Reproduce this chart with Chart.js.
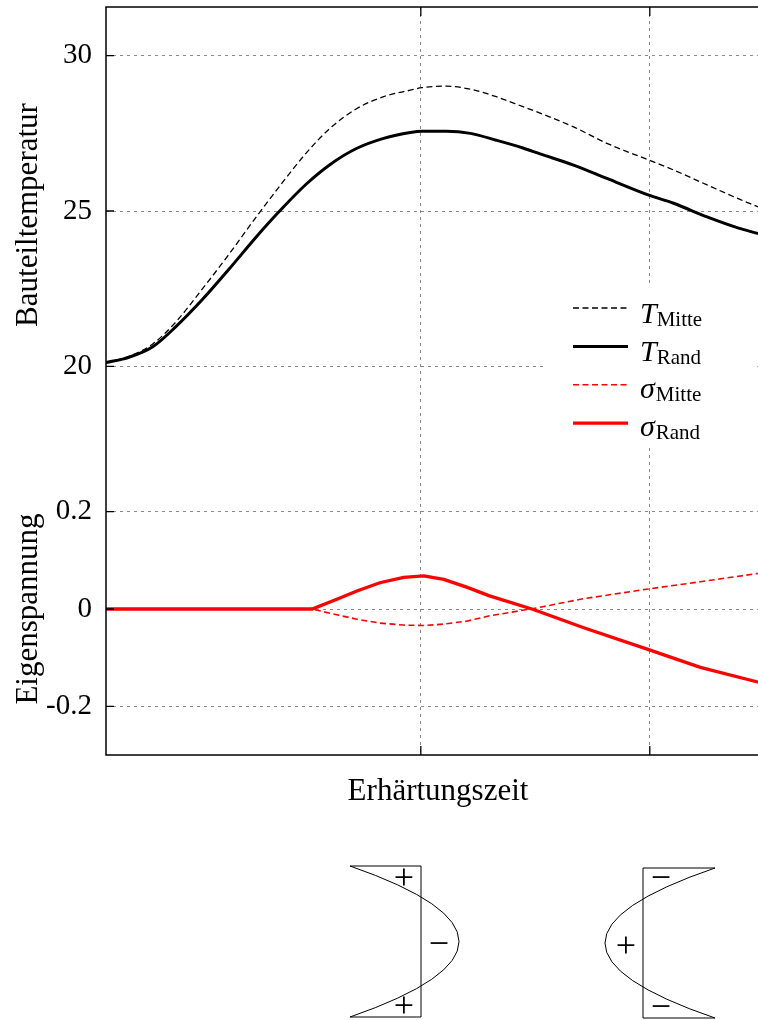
<!DOCTYPE html>
<html>
<head>
<meta charset="utf-8">
<script src="https://cdn.jsdelivr.net/npm/chart.js@4.4.0/dist/chart.umd.min.js"></script>
<style>
  html, body { margin: 0; padding: 0; background: #fff; overflow: hidden; }
  #page { position: relative; width: 758px; height: 1020px; overflow: hidden; }
  #wrap { position: absolute; left: 0; top: 0; width: 772px; height: 820px; }
  #sketch { position: absolute; left: 0; top: 0; pointer-events: none; }
</style>
</head>
<body>
<div id="page">
  <div id="wrap"><canvas id="chart"></canvas></div>
  <svg id="sketch" width="758" height="1020" viewBox="0 0 758 1020">
    <g fill="none" stroke="#000" stroke-width="1">
      <path d="M350 866 H421 V1017 H350"/>
      <path d="M350 866 Q568 941.5 350 1017"/>
      <path d="M715 868 H643 V1018 H715"/>
      <path d="M715 868 Q495 943 715 1018"/>
    </g>
    <g font-family="'Liberation Serif', serif" font-size="36" text-anchor="middle" dominant-baseline="central" fill="#000">
      <text x="404" y="877">+</text>
      <text x="439" y="943">−</text>
      <text x="404" y="1005">+</text>
      <text x="661" y="877">−</text>
      <text x="626" y="945">+</text>
      <text x="661" y="1006">−</text>
    </g>
  </svg>
</div>
<script>
const FONT = '"Liberation Serif", "Times New Roman", serif';
const GRID = '#8a8a8a';

// Erhärtungszeit (arbitrary time units, no labels on the axis)
const tempTime = [0, 2.4, 4.9, 7.3, 10.1, 12.9, 15.7, 18.2, 21.0, 23.5, 26.3, 29.1, 31.9, 33.1, 35.7, 38.2, 40.9, 43.7, 45.5, 49.0, 52.5, 56.9, 59.5, 63.0, 66.4, 68.3, 69.6];
const tempMitte = [20.12, 20.32, 20.72, 21.42, 22.49, 23.61, 24.79, 25.80, 26.87, 27.67, 28.30, 28.68, 28.89, 28.97, 29.02, 28.92, 28.68, 28.36, 28.15, 27.71, 27.18, 26.64, 26.32, 25.84, 25.38, 25.14, 25.00];
const tempRand = [20.12, 20.29, 20.63, 21.27, 22.15, 23.13, 24.15, 25.00, 25.87, 26.50, 27.02, 27.34, 27.53, 27.57, 27.57, 27.50, 27.28, 27.03, 26.84, 26.48, 26.05, 25.51, 25.25, 24.81, 24.44, 24.28, 24.16];

const stressTime = [0, 5, 10, 15, 21.6, 24.2, 26.3, 28.7, 31.2, 33.3, 35.4, 37.8, 40.2, 44.8, 50.0, 56.8, 62.3, 68.3, 69.6];
const stressMitte = [0, 0, 0, 0, 0, -0.012, -0.021, -0.029, -0.033, -0.034, -0.031, -0.025, -0.014, 0.001, 0.021, 0.041, 0.056, 0.073, 0.077];
const stressRand = [0, 0, 0, 0, 0, 0.020, 0.037, 0.054, 0.065, 0.068, 0.061, 0.045, 0.027, -0.001, -0.038, -0.083, -0.120, -0.150, -0.155];

const timeGrid = [33, 57];
const tempTicks = [20, 25, 30];
const stressTicks = [-0.2, 0, 0.2];
const legendNames = [['T', 'Mitte'], ['T', 'Rand'], ['σ', 'Mitte'], ['σ', 'Rand']];

const pts = (xs, ys) => xs.map((x, i) => ({ x: x, y: ys[i] }));

const datasets = [
  { data: pts(tempTime, tempMitte), yAxisID: 'yT', borderColor: '#000', borderWidth: 1.3, borderDash: [6, 3.5], cubicInterpolationMode: 'monotone', order: 3 },
  { data: pts(tempTime, tempRand), yAxisID: 'yT', borderColor: '#000', borderWidth: 3, cubicInterpolationMode: 'monotone', order: 2 },
  { data: pts(stressTime, stressMitte), yAxisID: 'yS', borderColor: '#ff0000', borderWidth: 1.6, borderDash: [6, 3.5], order: 1 },
  { data: pts(stressTime, stressRand), yAxisID: 'yS', borderColor: '#ff0000', borderWidth: 3.3, order: 0 },
];

const tickFont = { family: FONT, size: 29 };
const titleFont = { family: FONT, size: 31 };
const gridOpts = { color: GRID, lineWidth: 1, drawTicks: false };
const borderOpts = { display: false, dash: [3, 4] };

// fixed axis boxes, no extra label padding around the plot area
const fixBox = (w, h) => s => {
  if (w !== null) s.width = w;
  if (h !== null) s.height = h;
  s.paddingTop = 0; s.paddingBottom = 0; s.paddingLeft = 0; s.paddingRight = 0;
};

// frame with inward ticks + legend with subscripts
const framePlugin = {
  id: 'frame',
  afterDatasetsDraw(chart) {
    const { ctx, chartArea: a, scales } = chart;
    ctx.save();
    ctx.strokeStyle = '#000';
    ctx.lineWidth = 1.5;
    ctx.strokeRect(a.left, a.top, a.right - a.left, a.bottom - a.top);

    ctx.lineWidth = 1.3;
    ctx.beginPath();
    timeGrid.forEach(v => {
      const px = scales.x.getPixelForValue(v);
      ctx.moveTo(px, a.top); ctx.lineTo(px, a.top + 9);
      ctx.moveTo(px, a.bottom); ctx.lineTo(px, a.bottom - 9);
    });
    tempTicks.forEach(v => {
      const py = scales.yT.getPixelForValue(v);
      ctx.moveTo(a.left, py); ctx.lineTo(a.left + 8, py);
    });
    stressTicks.forEach(v => {
      const py = scales.yS.getPixelForValue(v);
      ctx.moveTo(a.left, py); ctx.lineTo(a.left + 8, py);
    });
    ctx.stroke();

    // legend
    ctx.fillStyle = '#fff';
    ctx.fillRect(547, 287, 209, 157);
    chart.data.datasets.forEach((ds, i) => {
      const y = 308 + i * 38.4;
      ctx.beginPath();
      ctx.strokeStyle = ds.borderColor;
      ctx.lineWidth = ds.borderWidth;
      ctx.setLineDash(ds.borderDash || []);
      ctx.moveTo(573, y); ctx.lineTo(628, y);
      ctx.stroke();
      ctx.setLineDash([]);

      const [sym, sub] = legendNames[i];
      const base = y + (sym === 'T' ? 15 : 13);
      ctx.fillStyle = '#000';
      ctx.textBaseline = 'alphabetic';
      ctx.textAlign = 'left';
      ctx.font = 'italic 30px ' + FONT;
      ctx.fillText(sym, 640, base);
      const w = ctx.measureText(sym).width;
      ctx.font = '21px ' + FONT;
      ctx.fillText(sub, 640 + w + (sym === 'T' ? 0 : 1), base + 3);
    });
    ctx.restore();
  }
};

new Chart(document.getElementById('chart').getContext('2d'), {
  type: 'line',
  data: { datasets: datasets },
  options: {
    responsive: true,
    maintainAspectRatio: false,
    animation: false,
    layout: { padding: { top: 7, right: 2, bottom: 0, left: 0 } },
    elements: {
      point: { radius: 0 },
      line: { tension: 0, fill: false },
    },
    plugins: {
      legend: { display: false },
      tooltip: { enabled: false },
    },
    scales: {
      x: {
        type: 'linear',
        min: 0,
        max: 69.6,
        afterBuildTicks: s => { s.ticks = timeGrid.map(v => ({ value: v })); },
        afterFit: fixBox(null, 65),
        ticks: { display: false },
        grid: gridOpts,
        border: borderOpts,
        title: { display: true, text: 'Erhärtungszeit', color: '#000', font: titleFont, padding: { top: 0, bottom: 10 } },
      },
      yS: {
        type: 'linear',
        position: 'left',
        stack: 'y',
        stackWeight: 292,
        min: -0.3,
        max: 0.3,
        afterBuildTicks: s => { s.ticks = stressTicks.map(v => ({ value: v })); },
        afterFit: fixBox(106, null),
        ticks: { color: '#000', font: tickFont, padding: 14, autoSkip: false, callback: v => String(v) },
        grid: gridOpts,
        border: borderOpts,
        title: { display: true, text: 'Eigenspannung', color: '#000', font: titleFont, padding: { top: 10, bottom: 0 } },
      },
      yGap: {
        type: 'linear',
        position: 'left',
        stack: 'y',
        stackWeight: 40,
        min: 0,
        max: 1,
        afterBuildTicks: s => { s.ticks = []; },
        afterFit: fixBox(106, null),
        ticks: { display: false },
        grid: { display: false },
        border: { display: false },
      },
      yT: {
        type: 'linear',
        position: 'left',
        stack: 'y',
        stackWeight: 416,
        min: 18.175,
        max: 31.568,
        afterBuildTicks: s => { s.ticks = tempTicks.map(v => ({ value: v })); },
        afterFit: fixBox(106, null),
        ticks: { color: '#000', font: tickFont, padding: 14, autoSkip: false },
        grid: gridOpts,
        border: borderOpts,
        title: { display: true, text: 'Bauteiltemperatur', color: '#000', font: titleFont, padding: { top: 10, bottom: 0 } },
      },
    },
  },
  plugins: [framePlugin],
});
</script>
</body>
</html>
